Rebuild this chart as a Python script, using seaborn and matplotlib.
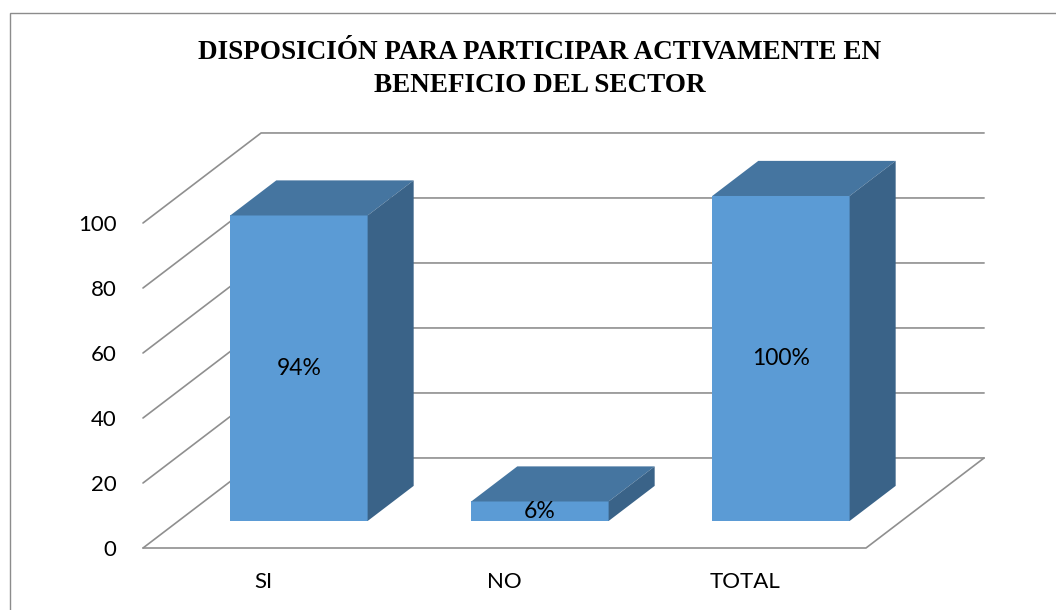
import matplotlib
matplotlib.use('Agg')
import matplotlib.pyplot as plt
import seaborn as sns
import pandas as pd

## Datos
categorias = ['SI', 'NO', 'TOTAL']
valores = [94, 6, 100]
etiquetas = ['94%', '6%', '100%']
ticks_y = [0, 20, 40, 60, 80, 100]
titulo = 'DISPOSICIÓN PARA PARTICIPAR ACTIVAMENTE EN\nBENEFICIO DEL SECTOR'

df = pd.DataFrame({'categoria': categorias, 'valor': valores})

sns.set_style('white')
plt.rcParams['font.family'] = ['Lato', 'DejaVu Sans']
plt.rcParams['text.color'] = 'black'
plt.rcParams['xtick.color'] = 'black'
plt.rcParams['ytick.color'] = 'black'

## "3D" oblicuo: vector de profundidad en unidades de datos
DX, DY = 0.49, 27.7   # profundidad total del piso
Z0 = 0.3              # plano frontal de las barras (fraccion del piso)
ZB = 0.39             # profundidad de las barras
W, H = 1056, 610
px_x = 241            # pixeles por categoria
px_y = 3.25           # pixeles por unidad

x_min = -0.5 - Z0 * DX
x_max = 2.5 + (1 - Z0) * DX
y_min = -Z0 * DY
y_max = 100 + (1 - Z0) * DY

fig = plt.figure(figsize=(W / 100, H / 100), dpi=100)
left_px, bottom_px = 143, 548
ax = fig.add_axes([left_px / W, (H - bottom_px) / H,
                   (x_max - x_min) * px_x / W, (y_max - y_min) * px_y / H])

## lineas de la cuadricula (pared izquierda + pared del fondo)
gris = '#8f8f8f'
for v in ticks_y:
    ax.plot([x_min, x_min + DX, x_max], [v - Z0 * DY, v + (1 - Z0) * DY, v + (1 - Z0) * DY],
            color=gris, lw=1.2, zorder=1, clip_on=False)
## borde frontal y derecho del piso
ax.plot([x_min, 2.5 - Z0 * DX, x_max], [-Z0 * DY, -Z0 * DY, (1 - Z0) * DY],
        color=gris, lw=1.2, zorder=1, clip_on=False)

## barras (cara frontal)
sns.barplot(data=df, x='categoria', y='valor', color='#5B9BD5', saturation=1,
            width=0.57, linewidth=0, zorder=3, ax=ax)

## caras superior y lateral de cada barra
barras = list(ax.patches)
bx, by = ZB * DX, ZB * DY
for p, txt in zip(barras, etiquetas):
    x0, w, h = p.get_x(), p.get_width(), p.get_height()
    ax.fill([x0, x0 + w, x0 + w + bx, x0 + bx], [h, h, h + by, h + by],
            color='#4575A0', lw=0, zorder=3)
    ax.fill([x0 + w, x0 + w + bx, x0 + w + bx, x0 + w], [0, by, h + by, h],
            color='#3A6388', lw=0, zorder=3)
    ax.text(x0 + w / 2, h / 2, txt, ha='center', va='center', fontsize=16.5, color='black', zorder=4)

ax.set_xlim(x_min, x_max)
ax.set_ylim(y_min, y_max)
ax.set_xticks([i - Z0 * DX for i in range(len(categorias))], categorias)
ax.set_yticks([v - Z0 * DY for v in ticks_y], [str(v) for v in ticks_y])
ax.tick_params(axis='y', length=0, labelsize=16, pad=19)
ax.tick_params(axis='x', length=0, labelsize=16, pad=17)
ax.set_xlabel('')
ax.set_ylabel('')
sns.despine(ax=ax, left=True, bottom=True)
ax.patch.set_alpha(0)

## titulo
fig.text(540 / W, 1 - 69 / H, titulo, ha='center', va='center', fontsize=19.5,
         fontweight='bold', family='Liberation Serif', linespacing=1.38, color='black')

## marco del grafico (solo se ve arriba y a la izquierda)
fig.patches.append(plt.Rectangle((9.5 / W, -0.1), 1.2, 1.1 - 13 / H, transform=fig.transFigure,
                                 fill=False, edgecolor='#8c8c8c', lw=1))

fig.savefig('out.png', dpi=100)
